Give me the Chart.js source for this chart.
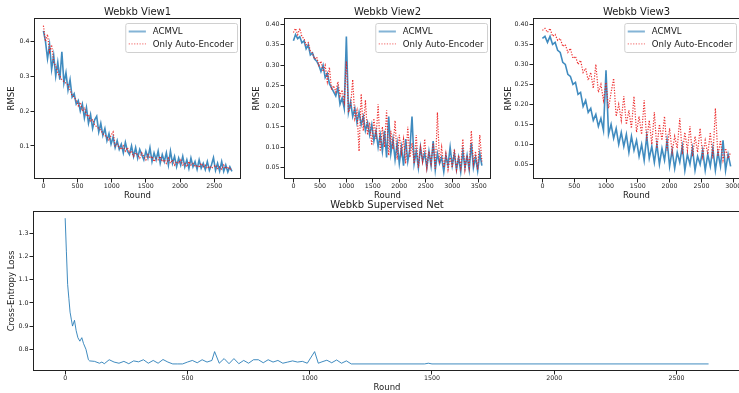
<!DOCTYPE html>
<html>
<head>
<meta charset="utf-8">
<script src="https://cdn.jsdelivr.net/npm/chart.js@4.4.1/dist/chart.umd.min.js"></script>
<style>
  html, body { margin: 0; padding: 0; background: #fff; width: 739px; height: 393px; overflow: hidden; position: relative; }
  canvas { position: absolute; }
</style>
</head>
<body>
<canvas id="view1"></canvas>
<canvas id="view2"></canvas>
<canvas id="view3"></canvas>
<canvas id="supervised"></canvas>
<script>
// ---- data ----
const seriesNames = ['ACMVL', 'Only Auto-Encoder'];

// Webkb View1, one value every 30 rounds
const view1Step = 30;
const view1Acmvl = [0.43,0.40,0.35,0.39,0.32,0.36,0.30,0.34,0.29,0.37,0.28,0.31,0.26,0.29,0.24,0.25,0.22,0.23,0.20,0.22,
  0.18,0.21,0.165,0.19,0.15,0.175,0.185,0.14,0.165,0.13,0.15,0.115,0.135,0.105,0.125,0.095,0.115,0.09,0.105,0.08,
  0.11,0.085,0.075,0.10,0.07,0.095,0.065,0.09,0.075,0.06,0.085,0.065,0.095,0.055,0.08,0.06,0.085,0.05,0.075,0.055,
  0.08,0.045,0.085,0.05,0.07,0.04,0.065,0.045,0.07,0.04,0.06,0.035,0.065,0.04,0.055,0.033,0.06,0.036,0.05,0.032,
  0.055,0.03,0.045,0.066,0.03,0.05,0.028,0.055,0.027,0.045,0.025,0.04,0.027];
const view1AutoEnc = [0.445,0.40,0.42,0.37,0.39,0.34,0.33,0.31,0.30,0.29,0.285,0.28,0.275,0.26,0.245,0.24,0.23,0.215,0.225,0.20,
  0.21,0.185,0.19,0.17,0.175,0.16,0.155,0.15,0.145,0.135,0.13,0.125,0.115,0.13,0.14,0.10,0.105,0.095,0.09,0.10,
  0.085,0.095,0.08,0.085,0.07,0.08,0.075,0.065,0.08,0.07,0.06,0.075,0.065,0.07,0.055,0.065,0.06,0.07,0.055,0.06,
  0.05,0.065,0.05,0.06,0.045,0.055,0.05,0.06,0.045,0.05,0.04,0.055,0.045,0.05,0.04,0.045,0.038,0.05,0.04,0.045,
  0.035,0.042,0.036,0.04,0.045,0.035,0.04,0.033,0.045,0.035,0.04,0.032,0.038];

// Webkb View2, one value every 40 rounds
const view2Step = 40;
const view2Acmvl = [0.36,0.375,0.365,0.37,0.355,0.36,0.34,0.35,0.325,0.33,0.315,0.31,0.30,0.285,0.30,0.27,0.28,0.255,0.245,0.235,
  0.225,0.245,0.205,0.22,0.195,0.37,0.185,0.21,0.175,0.195,0.16,0.185,0.155,0.175,0.14,0.16,0.13,0.155,0.115,0.14,
  0.10,0.13,0.09,0.14,0.075,0.175,0.085,0.12,0.07,0.11,0.06,0.10,0.055,0.12,0.065,0.095,0.175,0.06,0.09,0.05,
  0.10,0.065,0.085,0.05,0.09,0.055,0.115,0.045,0.085,0.06,0.075,0.04,0.08,0.055,0.10,0.055,0.085,0.045,0.075,0.04,
  0.09,0.05,0.08,0.045,0.11,0.05,0.075,0.042,0.085,0.055];
const view2AutoEnc = [0.38,0.39,0.375,0.39,0.37,0.365,0.35,0.355,0.335,0.33,0.315,0.32,0.30,0.31,0.285,0.30,0.26,0.295,0.24,0.25,
  0.235,0.26,0.225,0.24,0.21,0.31,0.185,0.20,0.265,0.17,0.19,0.09,0.23,0.14,0.215,0.13,0.16,0.105,0.17,0.12,
  0.205,0.09,0.15,0.10,0.19,0.08,0.14,0.095,0.165,0.07,0.13,0.085,0.12,0.06,0.15,0.075,0.11,0.06,0.13,0.05,
  0.10,0.065,0.12,0.05,0.09,0.06,0.11,0.045,0.185,0.06,0.10,0.05,0.085,0.045,0.075,0.05,0.095,0.045,0.08,0.05,
  0.12,0.045,0.08,0.05,0.14,0.06,0.09,0.045,0.13,0.065];

// Webkb View3, one value every 40 rounds
const view3Step = 40;
const view3Acmvl = [0.365,0.37,0.355,0.37,0.35,0.355,0.335,0.33,0.305,0.30,0.275,0.27,0.25,0.255,0.225,0.23,0.195,0.21,0.18,0.19,
  0.16,0.175,0.145,0.165,0.135,0.285,0.125,0.15,0.115,0.14,0.10,0.13,0.095,0.125,0.08,0.12,0.085,0.11,0.07,0.10,
  0.06,0.12,0.065,0.095,0.055,0.10,0.05,0.09,0.06,0.11,0.045,0.085,0.04,0.08,0.055,0.095,0.035,0.075,0.05,0.09,
  0.035,0.07,0.05,0.085,0.035,0.075,0.045,0.09,0.035,0.08,0.045,0.11,0.035,0.075,0.045];
const view3AutoEnc = [0.385,0.39,0.38,0.39,0.37,0.375,0.36,0.365,0.345,0.35,0.33,0.34,0.315,0.32,0.30,0.31,0.28,0.29,0.26,0.28,
  0.24,0.30,0.23,0.25,0.21,0.255,0.19,0.23,0.265,0.17,0.20,0.16,0.22,0.15,0.185,0.14,0.22,0.13,0.17,0.125,
  0.21,0.11,0.16,0.10,0.18,0.09,0.15,0.11,0.17,0.085,0.14,0.08,0.12,0.09,0.165,0.075,0.13,0.085,0.145,0.07,
  0.12,0.08,0.14,0.07,0.11,0.075,0.13,0.065,0.19,0.07,0.11,0.06,0.09,0.065,0.08];

// Webkb Supervised Net
const supRounds = [0,5,10,15,20,25,30,38,45,52,60,68,75,85,95,100,120,140,150,160,
  180,200,220,240,260,280,300,320,340,360,380,400,420,440,460,480,500,520,540,560,
  580,600,611,630,650,670,690,710,730,750,770,790,810,830,850,870,890,910,930,950,
  970,990,1020,1035,1050,1070,1090,1110,1130,1150,1170,1470,1485,1500,2631];
const supLoss = [1.365,1.22,1.08,1.02,0.96,0.93,0.90,0.925,0.88,0.85,0.835,0.85,0.825,0.80,0.755,0.75,0.748,0.74,0.745,0.738,
  0.755,0.745,0.74,0.748,0.738,0.75,0.746,0.755,0.74,0.752,0.74,0.756,0.745,0.737,0.737,0.737,0.745,0.752,0.742,0.755,
  0.745,0.752,0.79,0.74,0.76,0.738,0.76,0.738,0.752,0.74,0.755,0.755,0.742,0.755,0.745,0.752,0.74,0.745,0.75,0.745,
  0.748,0.74,0.79,0.74,0.746,0.753,0.742,0.754,0.74,0.75,0.737,0.737,0.74,0.737,0.737];

// tick values
const view1XTicks = [0, 500, 1000, 1500, 2000, 2500];
const view1YTicks = [0.1, 0.2, 0.3, 0.4];
const view2XTicks = [0, 500, 1000, 1500, 2000, 2500, 3000, 3500];
const view2YTicks = [0.05, 0.10, 0.15, 0.20, 0.25, 0.30, 0.35, 0.40];
const view3XTicks = [0, 500, 1000, 1500, 2000, 2500, 3000];
const view3YTicks = [0.05, 0.10, 0.15, 0.20, 0.25, 0.30, 0.35, 0.40];
const supXTicks = [0, 500, 1000, 1500, 2000, 2500];
const supYTicks = [0.8, 0.9, 1.0, 1.1, 1.2, 1.3];

// ---- styling ----
const FONT = '"DejaVu Sans", sans-serif';
const TEXT = '#1a1a1a';
const BLUE = 'rgba(31,119,180,0.85)';
const RED = 'rgba(235,25,25,0.9)';

const stepped = (vals, step) => vals.map((v, i) => ({ x: i * step, y: v }));
const paired = (xs, ys) => xs.map((x, i) => ({ x: x, y: ys[i] }));

// matplotlib style box around the plot area
const frameBox = {
  id: 'frameBox',
  afterDatasetsDraw(chart) {
    const { ctx, chartArea: a } = chart;
    ctx.save();
    ctx.strokeStyle = '#222';
    ctx.lineWidth = 1;
    ctx.strokeRect(Math.round(a.left) + 0.5, Math.round(a.top) + 0.5,
      Math.round(a.right - a.left) - 1, Math.round(a.bottom - a.top) - 1);
    ctx.restore();
  }
};

// legend drawn inside the upper right corner of the plot area
const cornerLegend = {
  id: 'cornerLegend',
  afterDraw(chart, args, opts) {
    if (!opts.show) return;
    const { ctx, chartArea: a } = chart;
    const fs = 8.6;
    const items = chart.data.datasets;
    ctx.save();
    ctx.font = fs + 'px ' + FONT;
    const textW = Math.max(...items.map(d => ctx.measureText(d.label).width));
    const pad = 0.4 * fs, handle = 2 * fs, gap = 0.8 * fs;
    const w = pad + handle + gap + textW + pad;
    const h = 29;
    const x = a.right - 4 - w, y = a.top + 5;
    ctx.beginPath();
    ctx.roundRect(x + 0.5, y + 0.5, w, h, 2);
    ctx.fillStyle = 'rgba(255,255,255,0.8)';
    ctx.fill();
    ctx.strokeStyle = '#d0d0d0';
    ctx.lineWidth = 1;
    ctx.stroke();
    items.forEach((d, i) => {
      const cy = y + 8.5 + i * 12.4;
      ctx.beginPath();
      ctx.strokeStyle = d.legendColor || d.borderColor;
      ctx.lineWidth = d.legendWidth || d.borderWidth;
      ctx.setLineDash(d.borderDash || []);
      ctx.moveTo(x + pad, cy);
      ctx.lineTo(x + pad + handle, cy);
      ctx.stroke();
      ctx.setLineDash([]);
      ctx.fillStyle = TEXT;
      ctx.textBaseline = 'middle';
      ctx.fillText(d.label, x + pad + handle + gap, cy + 0.5);
    });
    ctx.restore();
  }
};

function makePanel(id, p) {
  const el = document.getElementById(id);
  el.width = p.width; el.height = p.height;
  el.style.left = p.left + 'px'; el.style.top = p.top + 'px';
  el.style.width = p.width + 'px'; el.style.height = p.height + 'px';

  const tickFont = { family: FONT, size: 6.3 };
  const labelFont = { family: FONT, size: 8.5 };
  const grid = { display: true, drawOnChartArea: false, drawTicks: true, tickLength: 3.5, color: '#222', lineWidth: 1 };

  return new Chart(el, {
    type: 'line',
    data: { datasets: p.datasets },
    options: {
      responsive: false,
      animation: false,
      events: [],
      devicePixelRatio: 1,
      layout: { padding: { left: 0, right: 6, top: 0, bottom: 0 } },
      plugins: {
        legend: { display: false },
        tooltip: { enabled: false },
        title: {
          display: true, text: p.title, fullSize: false, color: TEXT,
          font: { family: FONT, size: 10, weight: 'normal' },
          padding: { top: p.titleTop, bottom: 0 }
        },
        cornerLegend: { show: p.legend }
      },
      scales: {
        x: {
          type: 'linear', min: p.xMin, max: p.xMax,
          afterFit: s => { s.height = 22; },
          afterBuildTicks: s => { s.ticks = p.xTicks.map(v => ({ value: v })); },
          grid: grid,
          border: { display: false },
          ticks: { padding: 0, font: tickFont, color: TEXT, maxRotation: 0, autoSkip: false, callback: v => String(v) },
          title: { display: true, text: 'Round', color: TEXT, font: labelFont, padding: { top: 0, bottom: 0 } }
        },
        y: {
          type: 'linear', min: p.yMin, max: p.yMax,
          afterFit: s => { s.width = p.yAxisW; },
          afterBuildTicks: s => { s.ticks = p.yTicks.map(v => ({ value: v })); },
          grid: grid,
          border: { display: false },
          ticks: { padding: 1, font: tickFont, color: TEXT, autoSkip: false, callback: v => v.toFixed(p.yDec) },
          title: { display: true, text: p.yTitle, color: TEXT, font: labelFont, padding: { top: p.yTitlePad, bottom: 0 } }
        }
      }
    },
    plugins: [frameBox, cornerLegend]
  });
}

function rmseSets(acmvl, autoEnc, step) {
  return [
    { label: seriesNames[0], data: stepped(acmvl, step), borderColor: BLUE, borderWidth: 1.6,
      legendColor: 'rgba(31,119,180,0.55)', legendWidth: 2, pointRadius: 0, tension: 0, order: 1 },
    { label: seriesNames[1], data: stepped(autoEnc, step), borderColor: RED, borderWidth: 1.2,
      legendColor: 'rgba(235,25,25,0.55)', borderDash: [1.2, 1.5], pointRadius: 0, tension: 0, order: 0 }
  ];
}

makePanel('view1', {
  left: 0, top: 0, width: 247, height: 201, yAxisW: 34, yTitlePad: 6.4, titleTop: 6,
  title: 'Webkb View1', yTitle: 'RMSE', legend: true,
  xMin: -138, xMax: 2893, yMin: 0.005, yMax: 0.467, xTicks: view1XTicks, yTicks: view1YTicks, yDec: 1,
  datasets: rmseSets(view1Acmvl, view1AutoEnc, view1Step)
});

makePanel('view2', {
  left: 246, top: 0, width: 251, height: 201, yAxisW: 38, yTitlePad: 5.9, titleTop: 6,
  title: 'Webkb View2', yTitle: 'RMSE', legend: true,
  xMin: -178, xMax: 3732, yMin: 0.0224, yMax: 0.4154, xTicks: view2XTicks, yTicks: view2YTicks, yDec: 2,
  datasets: rmseSets(view2Acmvl, view2AutoEnc, view2Step)
});

makePanel('view3', {
  left: 496, top: 0, width: 250, height: 201, yAxisW: 37, yTitlePad: 7.2, titleTop: 6,
  title: 'Webkb View3', yTitle: 'RMSE', legend: true,
  xMin: -148, xMax: 3107, yMin: 0.0133, yMax: 0.416, xTicks: view3XTicks, yTicks: view3YTicks, yDec: 2,
  datasets: rmseSets(view3Acmvl, view3AutoEnc, view3Step)
});

makePanel('supervised', {
  left: 0, top: 190, width: 747, height: 203, yAxisW: 33, yTitlePad: 6.6, titleTop: 9,
  title: 'Webkb Supervised Net', yTitle: 'Cross-Entropy Loss', legend: false,
  xMin: -131.6, xMax: 2763.6, yMin: 0.7065, yMax: 1.396, xTicks: supXTicks, yTicks: supYTicks, yDec: 1,
  datasets: [
    { label: 'Loss', data: paired(supRounds, supLoss), borderColor: 'rgba(31,119,180,0.85)', borderWidth: 1,
      pointRadius: 0, tension: 0 }
  ]
});
</script>
</body>
</html>
